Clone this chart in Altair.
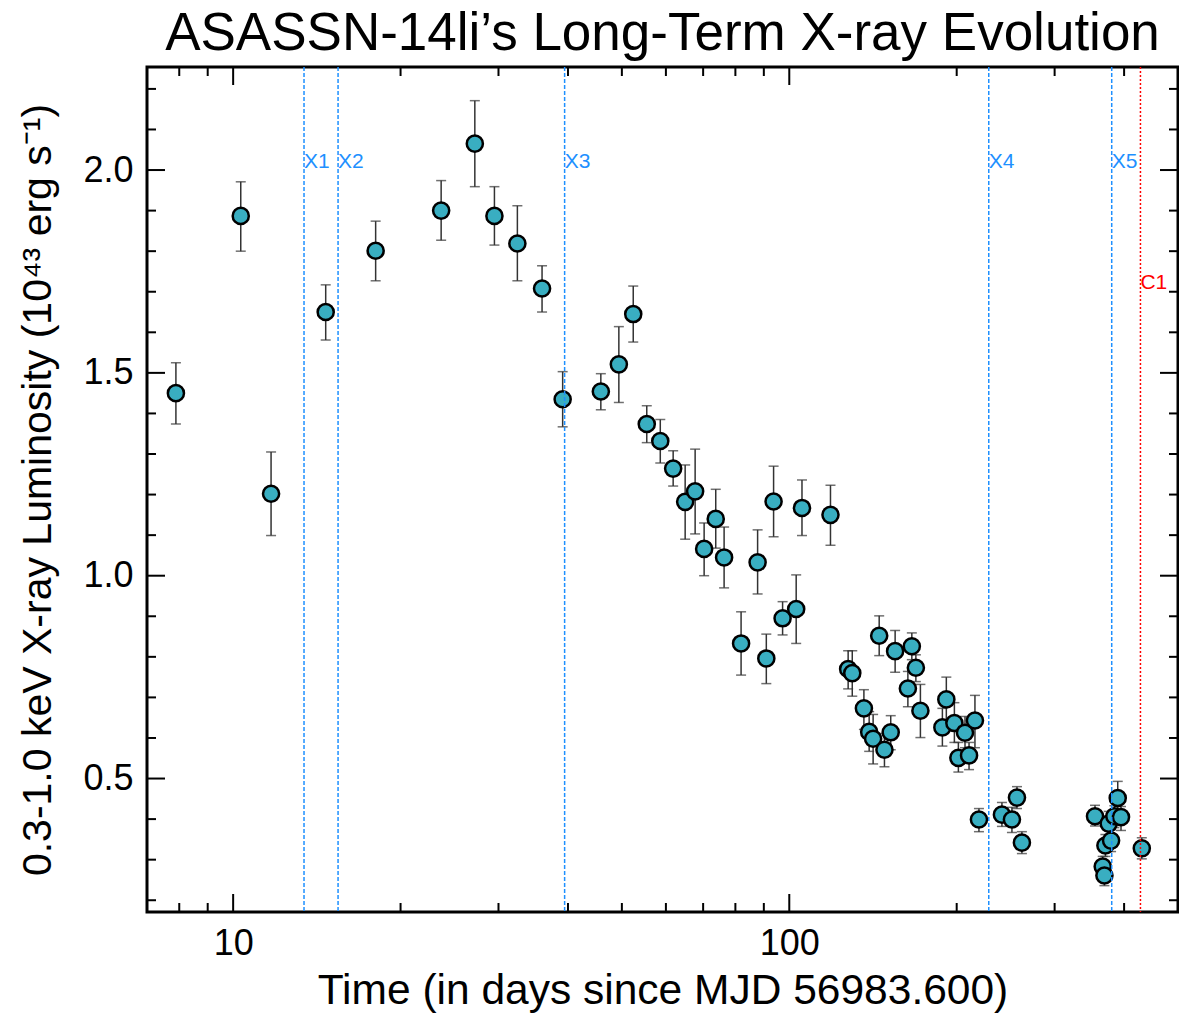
import altair as alt
import pandas as pd

# ---- data ----
t_days = [7.89, 10.32, 11.70, 14.67, 18.04, 23.66, 27.20, 29.50, 32.44, 35.93, 39.13,
          45.83, 49.38, 52.41, 55.43, 58.62, 61.83, 64.98, 67.72, 70.29, 73.75, 76.35,
          81.91, 87.71, 90.93, 93.71, 97.27, 102.9, 105.4, 118.6,
          127.6, 129.8, 136.2, 139.2, 141.5, 145.1, 148.3, 152.2, 155.0, 163.4, 166.1,
          168.9, 172.1, 188.5, 191.6, 198.1, 201.4, 207.0, 210.5, 215.7,
          219.3, 241.2, 251.4, 256.7, 262.0,
          354.6, 366.1, 368.7, 370.2, 379.0, 375.3, 384.2, 389.6, 394.9, 430.4]
lum = [1.450, 1.887, 1.202, 1.650, 1.801, 1.900, 2.065, 1.887, 1.819, 1.708, 1.435,
       1.454, 1.521, 1.645, 1.374, 1.332, 1.264, 1.182, 1.208, 1.066, 1.140, 1.045,
       0.833, 1.033, 0.796, 1.183, 0.895, 0.918, 1.167, 1.150,
       0.770, 0.760, 0.673, 0.615, 0.598, 0.852, 0.571, 0.614, 0.814, 0.722, 0.826,
       0.773, 0.667, 0.626, 0.695, 0.637, 0.551, 0.613, 0.557, 0.643,
       0.399, 0.411, 0.399, 0.453, 0.342,
       0.407, 0.283, 0.261, 0.335, 0.347, 0.389, 0.407, 0.452, 0.405, 0.328]
lum_hi = [1.525, 1.971, 1.305, 1.717, 1.874, 1.974, 2.171, 1.959, 1.912, 1.764, 1.503,
          1.498, 1.614, 1.714, 1.419, 1.385, 1.308, 1.273, 1.312, 1.130, 1.213, 1.120,
          0.911, 1.113, 0.856, 1.270, 0.936, 1.002, 1.236, 1.223,
          0.815, 0.815, 0.719, 0.665, 0.658, 0.901, 0.611, 0.655, 0.865, 0.764, 0.859,
          0.805, 0.732, 0.673, 0.750, 0.687, 0.589, 0.653, 0.589, 0.705,
          0.426, 0.441, 0.429, 0.480, 0.369,
          0.434, 0.308, 0.283, 0.362, 0.374, 0.419, 0.433, 0.493, 0.431, 0.354]
lum_lo = [1.374, 1.800, 1.099, 1.581, 1.727, 1.827, 1.959, 1.815, 1.727, 1.650, 1.367,
          1.409, 1.427, 1.576, 1.328, 1.278, 1.221, 1.090, 1.103, 1.000, 1.068, 0.970,
          0.755, 0.955, 0.734, 1.096, 0.854, 0.833, 1.099, 1.075,
          0.721, 0.703, 0.621, 0.567, 0.536, 0.803, 0.529, 0.571, 0.762, 0.677, 0.793,
          0.739, 0.601, 0.580, 0.640, 0.589, 0.516, 0.576, 0.522, 0.576,
          0.369, 0.382, 0.367, 0.426, 0.315,
          0.383, 0.256, 0.236, 0.308, 0.320, 0.360, 0.379, 0.416, 0.372, 0.302]

xray_names = ["X1", "X2", "X3", "X4", "X5"]
xray_times = [13.41, 15.44, 39.45, 228.4, 380.0]
chandra_names = ["C1"]
chandra_times = [428.0]

x_major = [10, 100]
x_minor = [8, 9, 20, 30, 40, 50, 60, 70, 80, 90, 200, 300, 400]
y_major = [0.5, 1.0, 1.5, 2.0]
y_minor = [0.2, 0.3, 0.4, 0.6, 0.7, 0.8, 0.9, 1.1, 1.2, 1.3, 1.4, 1.6, 1.7, 1.8, 1.9, 2.1, 2.2]

title_text = ["ASASSN-14li’s Long-Term X-ray Evolution"]

# ---- tables ----
pts = pd.DataFrame({"t": t_days, "L": lum, "lo": lum_lo, "hi": lum_hi})
xl = pd.DataFrame({"t": xray_times, "name": xray_names})
cl = pd.DataFrame({"t": chandra_times, "name": chandra_names})
xmaj = pd.DataFrame({"v": x_major})
xmin = pd.DataFrame({"v": x_minor})
ymaj = pd.DataFrame({"v": y_major})
ymin = pd.DataFrame({"v": y_minor})
ttl = pd.DataFrame({"title": title_text})

W, H = 1031, 845
FONT = "Liberation Sans"
xs = alt.Scale(type="log", domain=[7, 500], nice=False)
ys = alt.Scale(domain=[0.171, 2.254], nice=False, zero=False)

x_axis = alt.Axis(values=x_major, format="d", ticks=False, domain=False, grid=False,
                  labelFontSize=36, labelFont=FONT, labelColor="black", labelPadding=14,
                  title="Time (in days since MJD 56983.600)", titleFont=FONT,
                  titleFontSize=42.5, titleFontWeight="normal", titleColor="black",
                  titleBaseline="alphabetic", titleY=91)
y_axis = alt.Axis(values=y_major, format=".1f", ticks=False, domain=False, grid=False,
                  labelFontSize=36, labelFont=FONT, labelColor="black", labelPadding=14,
                  title="0.3-1.0 keV X-ray Luminosity (10⁴³ erg s⁻¹)", titleFont=FONT,
                  titleFontSize=41, titleFontWeight="normal", titleColor="black",
                  titleBaseline="alphabetic", titleX=-97, titleAngle=-90)

err = alt.Chart(pts).mark_rule(color="#333333", strokeWidth=1.5).encode(
    x=alt.X("t:Q", scale=xs, axis=x_axis),
    y=alt.Y("lo:Q", scale=ys, axis=y_axis),
    y2="hi:Q",
)
cap_lo = alt.Chart(pts).mark_tick(color="#333333", orient="horizontal", size=10, thickness=1.5).encode(
    x=alt.X("t:Q", scale=xs), y=alt.Y("lo:Q", scale=ys))
cap_hi = alt.Chart(pts).mark_tick(color="#333333", orient="horizontal", size=10, thickness=1.5).encode(
    x=alt.X("t:Q", scale=xs), y=alt.Y("hi:Q", scale=ys))
dots = alt.Chart(pts).mark_point(shape="circle", filled=True, size=260, fill="#39AEC1",
                                 stroke="black", strokeWidth=2.5, opacity=1).encode(
    x=alt.X("t:Q", scale=xs), y=alt.Y("L:Q", scale=ys))

xlines = alt.Chart(xl).mark_rule(color="#1E90FF", strokeWidth=1.5, strokeDash=[4, 2]).encode(
    x=alt.X("t:Q", scale=xs), y=alt.value(0), y2=alt.value(H))
xtext = alt.Chart(xl).mark_text(color="#1E90FF", fontSize=21, font=FONT, align="left",
                                baseline="middle", dx=0).encode(
    x=alt.X("t:Q", scale=xs), y=alt.value(95), text="name:N")
clines = alt.Chart(cl).mark_rule(color="red", strokeWidth=1.5, strokeDash=[2, 2]).encode(
    x=alt.X("t:Q", scale=xs), y=alt.value(0), y2=alt.value(H))
ctext = alt.Chart(cl).mark_text(color="red", fontSize=21, font=FONT, align="left",
                                baseline="middle", dx=0).encode(
    x=alt.X("t:Q", scale=xs), y=alt.value(216), text="name:N")

title_mark = alt.Chart(ttl).mark_text(font=FONT, fontSize=53, color="black", align="center",
                                      baseline="alphabetic").encode(
    x=alt.value(W / 2), y=alt.value(-17), text="title:N")

def xticks(df, L):
    b = alt.Chart(df).mark_rule(color="black", strokeWidth=2).encode(
        x=alt.X("v:Q", scale=xs), y=alt.value(H), y2=alt.value(H - L))
    t = alt.Chart(df).mark_rule(color="black", strokeWidth=2).encode(
        x=alt.X("v:Q", scale=xs), y=alt.value(0), y2=alt.value(L))
    return [b, t]

def yticks(df, L):
    l = alt.Chart(df).mark_rule(color="black", strokeWidth=2).encode(
        y=alt.Y("v:Q", scale=ys), x=alt.value(0), x2=alt.value(L))
    r = alt.Chart(df).mark_rule(color="black", strokeWidth=2).encode(
        y=alt.Y("v:Q", scale=ys), x=alt.value(W), x2=alt.value(W - L))
    return [l, r]

layers = [err, cap_lo, cap_hi, dots, xlines, clines, xtext, ctext, title_mark]
layers += xticks(xmaj, 18) + xticks(xmin, 9) + yticks(ymaj, 18) + yticks(ymin, 9)

chart = alt.layer(*layers).properties(
    width=W, height=H,
    background="white",
    autosize=alt.AutoSizeParams(type="none"),
    padding={"left": 139, "top": 59, "right": 1, "bottom": 102},
).configure_view(stroke="black", strokeWidth=3)

chart.save("out.html", embed_options={"renderer": "svg", "actions": False})
